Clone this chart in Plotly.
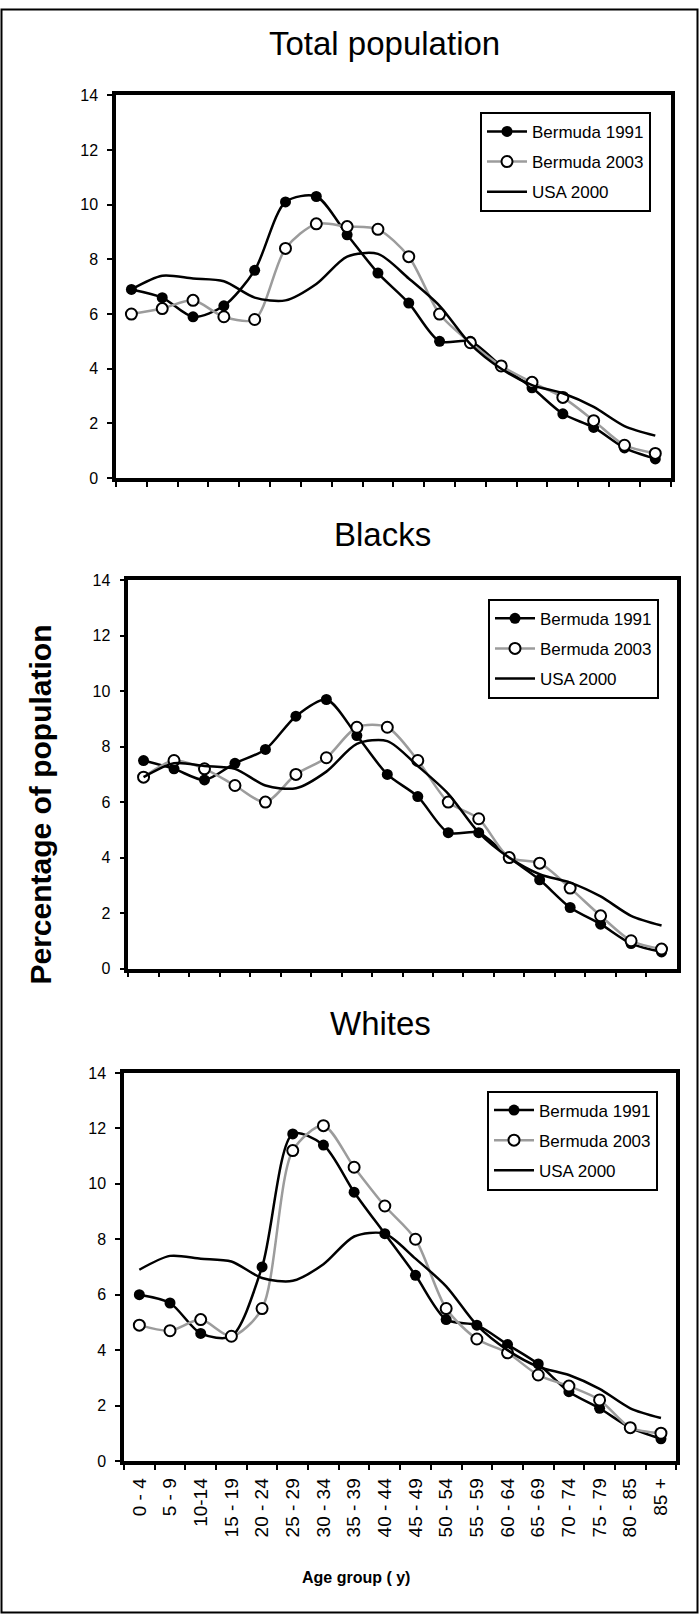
import plotly.graph_objects as go

W, H = 699, 1623

AGE_GROUPS = ["0 - 4", "5 - 9", "10-14", "15 - 19", "20 - 24", "25 - 29", "30 - 34",
              "35 - 39", "40 - 44", "45 - 49", "50 - 54", "55 - 59", "60 - 64",
              "65 - 69", "70 - 74", "75 - 79", "80 - 85", "85 +"]

# Percentage of population in each age group
TOTAL_1991 = [6.9, 6.6, 5.9, 6.3, 7.6, 10.1, 10.3, 8.9, 7.5, 6.4, 5.0, 5.0, 4.1, 3.3, 2.35, 1.85, 1.1, 0.7]
TOTAL_2003 = [6.0, 6.2, 6.5, 5.9, 5.8, 8.4, 9.3, 9.2, 9.1, 8.1, 6.0, 4.95, 4.1, 3.5, 2.95, 2.1, 1.2, 0.9]
BLACKS_1991 = [7.5, 7.2, 6.8, 7.4, 7.9, 9.1, 9.7, 8.4, 7.0, 6.2, 4.9, 4.9, 4.0, 3.2, 2.2, 1.6, 0.9, 0.6]
BLACKS_2003 = [6.9, 7.5, 7.2, 6.6, 6.0, 7.0, 7.6, 8.7, 8.7, 7.5, 6.0, 5.4, 4.0, 3.8, 2.9, 1.9, 1.0, 0.7]
WHITES_1991 = [6.0, 5.7, 4.6, 4.5, 7.0, 11.8, 11.4, 9.7, 8.2, 6.7, 5.1, 4.9, 4.2, 3.5, 2.5, 1.9, 1.2, 0.8]
WHITES_2003 = [4.9, 4.7, 5.1, 4.5, 5.5, 11.2, 12.1, 10.6, 9.2, 8.0, 5.5, 4.4, 3.9, 3.1, 2.7, 2.2, 1.2, 1.0]
USA_2000 = [6.9, 7.4, 7.3, 7.2, 6.6, 6.5, 7.1, 8.1, 8.2, 7.3, 6.3, 4.9, 4.0, 3.4, 3.1, 2.6, 1.9, 1.55]

PANEL_TITLES = ["Total population", "Blacks", "Whites"]
SERIES_NAMES = ["Bermuda 1991", "Bermuda 2003", "USA 2000"]
PANEL_DATA = [(TOTAL_1991, TOTAL_2003), (BLACKS_1991, BLACKS_2003), (WHITES_1991, WHITES_2003)]

FONT = "Arial, Liberation Sans, sans-serif"
GREY = "#9c9c9c"


def fx(px):
    return px / W


def fy(py):
    return 1 - py / H


# plot boxes in pixels: left, right, top, bottom
BOXES = [(116, 670.7, 88.3, 475.0),
         (128.3, 676.8, 578.3, 970.7),
         (124.0, 676.3, 1076.3, 1468.3)]
# legend anchor (right, top) in pixels
LEGEND_POS = [(651, 105), (659, 597), (658, 1094)]
# panel title centres in pixels
TITLE_POS = [(384, 36), (382.5, 532), (380.5, 1026)]

fig = go.Figure()

for k, (b91, b03) in enumerate(PANEL_DATA):
    sfx = "" if k == 0 else str(k + 1)
    xa, ya, lg = "x" + sfx, "y" + sfx, "legend" + sfx
    fig.add_trace(go.Scatter(
        x=AGE_GROUPS, y=b91, name=SERIES_NAMES[0], mode="lines+markers",
        line=dict(color="black", width=2.5, shape="spline", smoothing=0.8),
        marker=dict(symbol="circle", size=11, color="black"),
        xaxis=xa, yaxis=ya, legend=lg, legendgroup=f"a{k}"))
    fig.add_trace(go.Scatter(
        x=AGE_GROUPS, y=b03, name=SERIES_NAMES[1], mode="lines+markers",
        line=dict(color=GREY, width=2.5, shape="spline", smoothing=0.8),
        marker=dict(symbol="circle", size=11, color="white",
                    line=dict(color="black", width=2)),
        xaxis=xa, yaxis=ya, legend=lg, legendgroup=f"b{k}"))
    fig.add_trace(go.Scatter(
        x=AGE_GROUPS, y=USA_2000, name=SERIES_NAMES[2], mode="lines",
        line=dict(color="black", width=2.5, shape="spline", smoothing=0.8),
        xaxis=xa, yaxis=ya, legend=lg, legendgroup=f"c{k}"))

layout = dict(
    width=W, height=H,
    margin=dict(l=0, r=0, t=0, b=0),
    paper_bgcolor="white", plot_bgcolor="white",
    font=dict(family=FONT, size=16, color="black"),
    showlegend=True,
)

axis_style = dict(showline=True, linecolor="black", linewidth=3.5, mirror=True,
                  ticks="outside", ticklen=5, tickwidth=2, tickcolor="black",
                  showgrid=False, zeroline=False, fixedrange=True)

annotations = []
for k, (l, r, t, b) in enumerate(BOXES):
    sfx = "" if k == 0 else str(k + 1)
    layout["xaxis" + sfx] = dict(
        axis_style, domain=[fx(l), fx(r)], anchor="y" + sfx,
        type="category", categoryorder="array", categoryarray=AGE_GROUPS,
        range=[-0.5, len(AGE_GROUPS) - 0.5], tickson="boundaries",
        showticklabels=(k == 2), tickangle=-90, ticklabelstandoff=6,
        tickfont=dict(family=FONT, size=19, color="black"))
    layout["yaxis" + sfx] = dict(
        axis_style, domain=[fy(b), fy(t)], anchor="x" + sfx,
        range=[0, 14], dtick=2, tickfont=dict(family=FONT, size=16, color="black"),
        ticklabelstandoff=6)
    lx, ly = LEGEND_POS[k]
    layout["legend" + sfx] = dict(
        x=fx(lx), y=fy(ly), xanchor="right", yanchor="top",
        xref="paper", yref="paper",
        bgcolor="white", bordercolor="black", borderwidth=2,
        font=dict(family=FONT, size=17, color="black"),
        tracegroupgap=5, itemwidth=40, traceorder="grouped")
    tx, ty = TITLE_POS[k]
    annotations.append(dict(
        text=PANEL_TITLES[k], x=fx(tx), y=fy(ty), xref="paper", yref="paper",
        xanchor="center", yanchor="middle", showarrow=False,
        font=dict(family=FONT, size=33, color="black")))

annotations.append(dict(
    text="<b>Percentage of population</b>", x=fx(41), y=fy(805),
    xref="paper", yref="paper", xanchor="center", yanchor="middle",
    textangle=-90, showarrow=False,
    font=dict(family=FONT, size=30, color="black")))
annotations.append(dict(
    text="<b>Age group ( y)</b>", x=fx(356), y=fy(1586),
    xref="paper", yref="paper", xanchor="center", yanchor="middle",
    showarrow=False, font=dict(family=FONT, size=16, color="black")))

layout["annotations"] = annotations
layout["shapes"] = [dict(
    type="rect", xref="paper", yref="paper",
    x0=fx(1.5), x1=fx(697.5), y0=fy(1621.5), y1=fy(1.5),
    line=dict(color="black", width=2), fillcolor="rgba(0,0,0,0)", layer="below")]

fig.update_layout(**layout)
fig.write_html("out.html")
